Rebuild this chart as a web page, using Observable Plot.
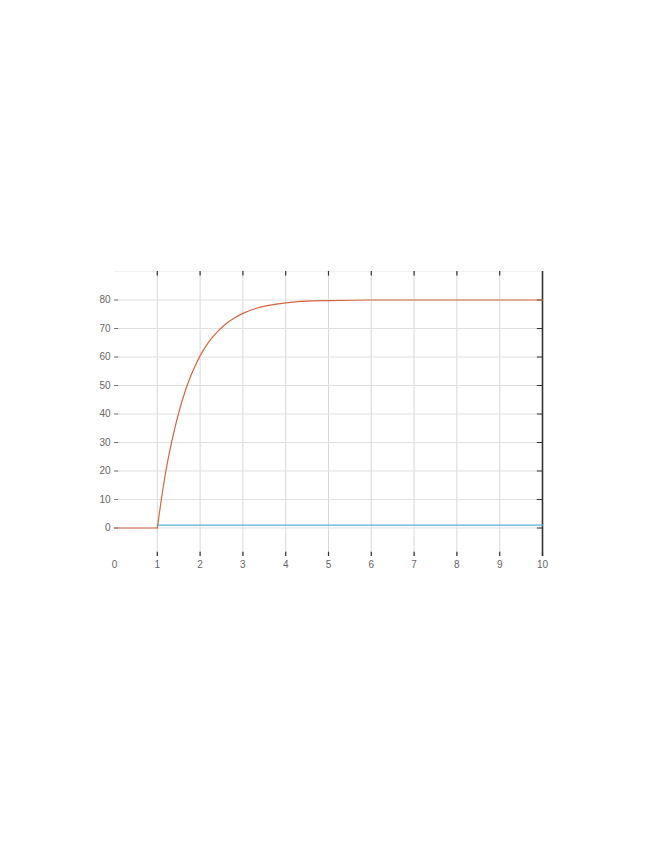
<!DOCTYPE html>
<html>
<head>
<meta charset="utf-8">
<script src="https://cdn.jsdelivr.net/npm/d3@7"></script>
<script src="https://cdn.jsdelivr.net/npm/@observablehq/plot@0.6"></script>
<style>
  html, body { margin: 0; padding: 0; background: #fff; }
  #chart svg { display: block; }
</style>
</head>
<body>
<div id="chart"></div>
<script>
// Step response (orange)
const respT = [0, 1.0, 1.1, 1.2, 1.3, 1.4, 1.5, 1.6, 1.7, 1.8, 1.9, 2.0, 2.2, 2.4, 2.6, 2.8, 3.0, 3.3, 3.6, 4.0, 4.5, 5.0, 6.0, 10.0];
const respY = [0, 0, 10.6, 20.0, 27.7, 34.4, 40.4, 45.6, 50.1, 54.0, 57.4, 60.4, 65.2, 68.8, 71.6, 73.7, 75.3, 77.0, 78.1, 79.0, 79.6, 79.8, 80.0, 80.0];
// Input step (blue)
const stepT = [1, 10];
const stepY = [1, 1];
// Ticks
const xTicks = [0, 1, 2, 3, 4, 5, 6, 7, 8, 9, 10];
const yTicks = [0, 10, 20, 30, 40, 50, 60, 70, 80];
const xDomain = [0, 10];
const yDomain = [-10, 90];

const resp = respT.map((t, i) => ({t, y: respY[i]}));
const respPre = resp.filter(d => d.t <= 1);
const respPost = resp.filter(d => d.t >= 1);
const step = stepT.map((t, i) => ({t, y: stepY[i]}));
const xGrid = xTicks.filter(d => d > 0 && d < 10);

const plot = Plot.plot({
  width: 655,
  height: 848,
  marginLeft: 114,
  marginRight: 113,
  marginTop: 271,
  marginBottom: 292,
  style: {fontFamily: "Liberation Sans, Arial, sans-serif", fontSize: "10px", color: "#666", background: "#fff"},
  x: {domain: xDomain},
  y: {domain: yDomain},
  marks: [
    // grid
    Plot.ruleX(xGrid, {x: d => d, stroke: "#d8d8d8", strokeWidth: 1}),
    Plot.ruleY(yTicks, {y: d => d, stroke: "#e0e0e0", strokeWidth: 1}),
    // faint top line
    Plot.ruleY([90], {y: d => d, stroke: "#f0f0f0"}),
    // bottom ticks (inward)
    Plot.ruleX(xTicks.filter(d => d > 0), {x: d => d, y1: -10, y2: -8.5, stroke: "#333", strokeWidth: 1.2}),
    // top ticks (inward)
    Plot.ruleX(xTicks.filter(d => d > 0 && d < 10), {x: d => d, y1: 90, y2: 88.4, stroke: "#333", strokeWidth: 1.2}),
    // left ticks (inward)
    Plot.ruleY(yTicks, {y: d => d, x1: 0, x2: 0.1, stroke: "#777", strokeWidth: 1}),
    // right ticks
    Plot.ruleY(yTicks, {y: d => d, x1: 9.88, x2: 10, stroke: "#333", strokeWidth: 1}),
    // right frame
    Plot.ruleX([10], {x: d => d, y1: -10, y2: 90, stroke: "#333", strokeWidth: 1.6}),
    // data
    Plot.line(step, {x: "t", y: "y", stroke: "#62b0d4", strokeWidth: 1.4}),
    Plot.line(respPre, {x: "t", y: "y", stroke: "#d4663f", strokeWidth: 1.2}),
    Plot.line(respPost, {x: "t", y: "y", stroke: "#d4663f", strokeWidth: 1.2, curve: "monotone-x"}),
    // axes
    Plot.axisX({ticks: xTicks, tickSize: 0, tickPadding: 4, tickFormat: d => String(d), fill: "#666", label: null}),
    Plot.axisY({ticks: yTicks, tickSize: 0, tickPadding: 4, tickFormat: d => String(d), fill: "#666", label: null})
  ]
});
document.getElementById("chart").append(plot);
</script>
</body>
</html>
